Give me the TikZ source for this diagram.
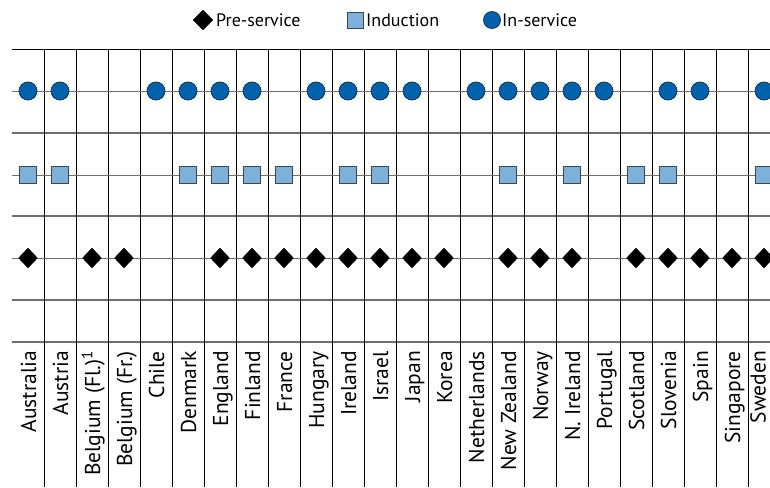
\documentclass[tikz,border=0pt]{standalone}
\usepackage{fontspec}
\setmainfont{PT Sans}
\usetikzlibrary{shapes.geometric}
\definecolor{circfill}{HTML}{0062AC}
\definecolor{circline}{HTML}{1C3550}
\definecolor{sqfill}{HTML}{7DB1DA}
\definecolor{sqline}{HTML}{3A4656}
\definecolor{gridgray}{HTML}{6E6E6E}
\tikzset{
  circmark/.style={circle, fill=circfill, draw=circline, line width=0.8pt, minimum size=18pt, inner sep=0pt},
  sqmark/.style={rectangle, fill=sqfill, draw=sqline, line width=0.8pt, minimum size=17.5pt, inner sep=0pt},
  diamark/.style={diamond, fill=black, draw=black, line width=0.3pt, minimum width=19pt, minimum height=20pt, inner sep=0pt, aspect=1},
  gridline/.style={draw=gridgray, line width=1.2pt},
  rowline/.style={draw=gridgray, line width=1pt},
  colline/.style={draw=black, line width=0.9pt},
  lab/.style={font=\fontsize{21.5}{24}\selectfont, inner sep=0pt, rotate=90, anchor=base east},
  legtext/.style={font=\fontsize{18}{20}\selectfont, inner sep=0pt, anchor=west}
}
\begin{document}
\begin{tikzpicture}[x=1pt, y=-1pt]
\useasboundingbox (0,0) rectangle (770,487);
\clip (0,0) rectangle (770,487);
% legend
\node[diamark, minimum width=20pt, minimum height=20pt] (legd) at (203,20) {};
\node[legtext] (legdt) at (216,20) {Pre-service};
\node[sqmark, minimum size=16pt] (legs) at (355,20) {};
\node[legtext] (legst) at (366,20) {Induction};
\node[circmark, minimum size=17pt] (legc) at (492,20) {};
\node[legtext] (legct) at (502,20) {In-service};
% horizontal grid lines
\draw[colline] (12,49) -- (770,49);
\foreach \yy in {133,216,300,342} \draw[gridline] (12,\yy) -- (770,\yy);
% vertical lines
\foreach \k in {0,...,22} \draw[colline] ({44+32*\k},49) -- ({44+32*\k},487);
% row lines
\foreach \yy in {91,175,258} \draw[rowline] (12,\yy) -- (770,\yy);
% markers
\foreach \i in {0,1,4,5,6,7,9,10,11,12,14,15,16,17,18,20,21,23}
  \node[circmark] (c\i) at ({28+32*\i},91) {};
\foreach \i in {0,1,5,6,7,8,10,11,15,17,19,20,23}
  \node[sqmark] (s\i) at ({28+32*\i},175) {};
\foreach \i in {0,2,3,6,7,8,9,10,11,12,13,15,16,17,19,20,21,22,23}
  \node[diamark] (d\i) at ({28+32*\i},258) {};
% labels
\foreach \i/\name in {0/Australia,1/Austria,2/{Belgium (Fl.)\textsuperscript{1}},3/Belgium (Fr.),4/Chile,5/Denmark,6/England,7/Finland,8/France,9/Hungary,10/Ireland,11/Israel,12/Japan,13/Korea,14/Netherlands,15/New Zealand,16/Norway,17/N. Ireland,18/Portugal,19/Scotland,20/Slovenia,21/Spain,22/Singapore}
  \node[lab] (l\i) at ({28+32*\i+8},351) {\name};
\node[lab] (l23) at (765.5,351) {Sweden};
\end{tikzpicture}
\end{document}
